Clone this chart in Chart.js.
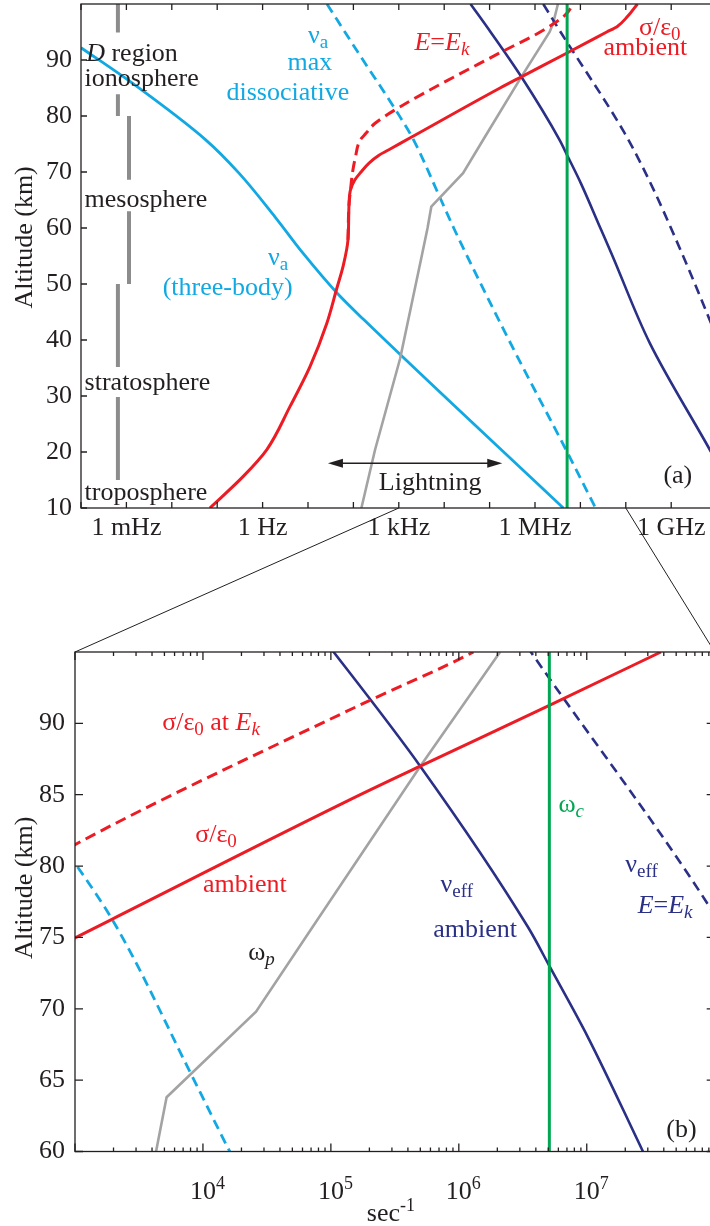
<!DOCTYPE html>
<html>
<head>
<meta charset="utf-8">
<script src="https://cdn.jsdelivr.net/npm/chart.js@4.4.1/dist/chart.umd.min.js"></script>
<style>
  html, body { margin: 0; padding: 0; background: #fff; overflow: hidden; }
  #wrap { position: relative; width: 710px; height: 1226px; overflow: hidden; }
  canvas { position: absolute; left: 0; top: 0; }
</style>
</head>
<body>
<div id="wrap">
  <canvas id="chartA" width="720" height="1226"></canvas>
  <canvas id="chartB" width="720" height="1226"></canvas>
</div>
<script>
// altitude profiles: x in sec^-1 (Hz), y = altitude in km
const nuThreeBodyX   = [1e-4, 1.33e-3, 0.0566, 0.302, 1.87, 7.76, 43.5, 171, 4.2e6];
const nuThreeBodyAlt = [92.2, 85.9, 75.7, 69.8, 62.0, 55.5, 48.4, 43.6, 10];

const nuDissX   = [26.2, 129, 1.0e3, 2.0e3, 8.1e3, 1.62e4, 2.9e4, 3.45e5, 4.82e6, 2.16e7];
const nuDissAlt = [100, 91.25, 80.2, 76.1, 65.4, 60, 55.7, 38.2, 20.4, 10];

const omegaPX   = [150, 300, 1.07e3, 3.2e3, 4.3e3, 5.2e3, 2.6e4, 7.8e4, 5.0e5, 2.1e6, 2.5e6, 3.2e6];
const omegaPAlt = [10, 20.4, 36.7, 55, 60, 63.8, 69.8, 76.2, 87, 95, 96.5, 100];

const sigmaAmbX   = [0.069, 0.37, 1.23, 4.0, 11, 26, 43, 59, 76, 80, 86.3, 108, 147, 221, 366, 676, 1.875e3, 1.7e5, 5.0e5, 5.2e6, 3.8e7, 6.5e7, 1.1e8, 1.8e8];
const sigmaAmbAlt = [10, 15.6, 20.4, 28.1, 35.2, 43, 49.2, 53.1, 57.9, 64.1, 66.8, 68.6, 70.0, 71.6, 73.0, 74.2, 76.2, 85.0, 87.0, 91.3, 95, 96, 97.8, 100];

const sigmaEkX   = [76, 80, 86.3, 96, 110, 141, 189, 300, 1.0e3, 1.7e5, 1.3e6, 4.6e6, 7.0e6];
const sigmaEkAlt = [57.9, 64.1, 66.8, 70, 72.5, 75.7, 76.9, 78.7, 81.5, 91.3, 95, 98, 100];

const nuEffAmbX   = [3.8e4, 1.05e5, 5.04e5, 3.47e6, 5.15e6, 1.02e7, 2.75e7, 4.8e7, 3.4e8, 7.1e9, 1.0e10];
const nuEffAmbAlt = [100, 95, 86.95, 75.73, 72.93, 68.02, 60, 55.5, 39.4, 20.4, 18.2];

const nuEffEkX   = [1.52e6, 3.66e6, 9.1e7, 3.41e8, 1.85e9, 6.56e9, 1.0e10];
const nuEffEkAlt = [100, 95, 77.15, 68.2, 54.9, 44.2, 40.5];

const omegaCX   = [5.1e6, 5.1e6];
const omegaCAlt = [10, 100];

// atmosphere layer markers (x position, top alt, bottom alt)
const layerBars = [
  [6.5e-4, 100, 94.9], [6.5e-4, 83.9, 80],
  [1.14e-3, 80, 68.6], [1.14e-3, 63, 50],
  [6.5e-4, 50, 35.2], [6.5e-4, 29.8, 15]
];
const lightningBand = [27.5, 1.9e5];
const lightningAlt = 18;

// axes
const xTicksA = [1e-3, 1, 1e3, 1e6, 1e9];
const xLabelsA = ['1 mHz', '1 Hz', '1 kHz', '1 MHz', '1 GHz'];
const yTicksA = [10, 20, 30, 40, 50, 60, 70, 80, 90];
const xTicksB = [1e4, 1e5, 1e6, 1e7];
const yTicksB = [60, 65, 70, 75, 80, 85, 90];
const zoomX = [1e3, 1e8];
const zoomAlt = [60, 95];

const FONT = '"Liberation Serif", "Times New Roman", serif';
const INK = '#231f20', RED = '#ed1c24', CYAN = '#12a9e3', NAVY = '#2b3087', GREEN = '#00a651', GREY = '#a3a3a3', BAR = '#8c8c8c';

function pts(xs, alts) {
  return xs.map((x, i) => ({ x: x, y: alts[i] }));
}

function line(xs, alts, color, width, dash, straight) {
  return {
    data: pts(xs, alts),
    borderColor: color,
    borderWidth: width,
    borderDash: dash || [],
    pointRadius: 0,
    fill: false,
    cubicInterpolationMode: straight ? 'default' : 'monotone',
    tension: 0
  };
}

function makeDatasets(withBars) {
  const sets = [
    line(omegaCX, omegaCAlt, GREEN, 3),
    line(sigmaAmbX, sigmaAmbAlt, RED, 3),
    line(sigmaEkX, sigmaEkAlt, RED, 3, [11, 6]),
    line(nuEffAmbX, nuEffAmbAlt, NAVY, 2.6),
    line(nuEffEkX, nuEffEkAlt, NAVY, 2.6, [10, 6]),
    line(omegaPX, omegaPAlt, GREY, 2.6, null, true),
    line(nuThreeBodyX, nuThreeBodyAlt, CYAN, 2.8),
    line(nuDissX, nuDissAlt, CYAN, 2.8, [10, 6])
  ];
  if (withBars) {
    layerBars.forEach(b => sets.push(line([b[0], b[0]], [b[1], b[2]], BAR, 4, null, true)));
  }
  return sets;
}

// text with sub/superscripts: parts = [[text, kind]]
function drawRich(ctx, parts, x, y, color, align) {
  const spec = {
    n: [26, 0, ''], i: [26, 0, 'italic '],
    s: [19, 5, ''], si: [19, 5, 'italic '],
    p: [18, -10, '']
  };
  ctx.save();
  ctx.fillStyle = color;
  ctx.textBaseline = 'alphabetic';
  ctx.textAlign = 'left';
  let w = 0;
  parts.forEach(p => {
    const s = spec[p[1] || 'n'];
    ctx.font = s[2] + s[0] + 'px ' + FONT;
    w += ctx.measureText(p[0]).width;
  });
  let cx = align === 'center' ? x - w / 2 : x;
  parts.forEach(p => {
    const s = spec[p[1] || 'n'];
    ctx.font = s[2] + s[0] + 'px ' + FONT;
    ctx.fillText(p[0], cx, y + s[1]);
    cx += ctx.measureText(p[0]).width;
  });
  ctx.restore();
}

function drawFrame(chart, minor, majorLen, minorLen, yTicks) {
  const ctx = chart.ctx, a = chart.chartArea, xs = chart.scales.x, ys = chart.scales.y;
  ctx.save();
  ctx.strokeStyle = INK;
  ctx.lineWidth = 1.3;
  ctx.strokeRect(a.left, a.top, a.right - a.left, a.bottom - a.top);
  ctx.beginPath();
  const lo = Math.floor(Math.log10(xs.min)), hi = Math.ceil(Math.log10(xs.max));
  for (let e = lo; e <= hi; e++) {
    for (let k = 1; k <= (minor ? 9 : 1); k++) {
      const v = k * Math.pow(10, e);
      if (v < xs.min * 0.999 || v > xs.max * 1.001) continue;
      const px = xs.getPixelForValue(v), len = k === 1 ? majorLen : minorLen;
      ctx.moveTo(px, a.bottom); ctx.lineTo(px, a.bottom - len);
      ctx.moveTo(px, a.top); ctx.lineTo(px, a.top + len);
    }
  }
  yTicks.forEach(v => {
    const py = ys.getPixelForValue(v);
    ctx.moveTo(a.left, py); ctx.lineTo(a.left + majorLen, py);
    ctx.moveTo(a.right, py); ctx.lineTo(a.right - majorLen, py);
  });
  ctx.stroke();
  ctx.restore();
}

function yTitle(ctx, cx, cy) {
  ctx.save();
  ctx.translate(cx, cy);
  ctx.rotate(-Math.PI / 2);
  ctx.font = '26px ' + FONT;
  ctx.fillStyle = INK;
  ctx.textAlign = 'center';
  ctx.textBaseline = 'middle';
  ctx.fillText('Altitude (km)', 0, 0);
  ctx.restore();
}

const labelsA = [
  { parts: [['D', 'i'], [' region']], x: 1.3e-4, y: 89.9, c: INK },
  { parts: [['ionosphere']], x: 1.2e-4, y: 85.4, c: INK },
  { parts: [['mesosphere']], x: 1.2e-4, y: 63.75, c: INK },
  { parts: [['stratosphere']], x: 1.2e-4, y: 31.1, c: INK },
  { parts: [['troposphere']], x: 1.2e-4, y: 11.4, c: INK },
  { parts: [['ν'], ['a', 's']], x: 16.6, y: 93.0, c: CYAN, al: 'center' },
  { parts: [['max']], x: 11, y: 88.2, c: CYAN, al: 'center' },
  { parts: [['dissociative']], x: 3.6, y: 82.9, c: CYAN, al: 'center' },
  { parts: [['ν'], ['a', 's']], x: 2.2, y: 53.4, c: CYAN, al: 'center' },
  { parts: [['(three-body)']], x: 0.17, y: 48, c: CYAN, al: 'center' },
  { parts: [['E', 'i'], ['='], ['E', 'i'], ['k', 'si']], x: 8.9e3, y: 91.8, c: RED, al: 'center' },
  { parts: [['σ/ε'], ['0', 's']], x: 5.6e8, y: 94.5, c: RED, al: 'center' },
  { parts: [['ambient']], x: 2.7e8, y: 90.9, c: RED, al: 'center' },
  { parts: [['Lightning']], x: 4.9e3, y: 13.2, c: INK, al: 'center' },
  { parts: [['(a)']], x: 1.4e9, y: 14.5, c: INK, al: 'center' }
];

const labelsB = [
  { parts: [['σ/ε'], ['0', 's'], [' at '], ['E', 'i'], ['k', 'si']], x: 4.8e3, y: 89.5, c: RED },
  { parts: [['σ/ε'], ['0', 's']], x: 8.7e3, y: 81.7, c: RED },
  { parts: [['ambient']], x: 1.0e4, y: 78.2, c: RED },
  { parts: [['ω'], ['p', 'si']], x: 2.26e4, y: 73.4, c: INK },
  { parts: [['ν'], ['eff', 's']], x: 7.2e5, y: 78.2, c: NAVY },
  { parts: [['ambient']], x: 6.3e5, y: 75.05, c: NAVY },
  { parts: [['ω'], ['c', 'si']], x: 6.0e6, y: 83.8, c: GREEN },
  { parts: [['ν'], ['eff', 's']], x: 2.0e7, y: 79.6, c: NAVY },
  { parts: [['E', 'i'], ['='], ['E', 'i'], ['k', 'si']], x: 2.5e7, y: 76.7, c: NAVY },
  { parts: [['(b)']], x: 5.5e7, y: 61.0, c: INK, al: 'center' }
];

function drawLabels(chart, list) {
  const xs = chart.scales.x, ys = chart.scales.y;
  list.forEach(l => drawRich(chart.ctx, l.parts, xs.getPixelForValue(l.x), ys.getPixelForValue(l.y), l.c, l.al));
}

const panelA = {
  id: 'panelA',
  afterDatasetsDraw(chart) { drawFrame(chart, false, 6, 0, yTicksA); },
  afterDraw(chart) {
    const ctx = chart.ctx, xs = chart.scales.x, ys = chart.scales.y, a = chart.chartArea;
    drawLabels(chart, labelsA);
    yTitle(ctx, 25, a.top + (a.bottom - a.top) * 0.463);
    // lightning band arrow
    const x1 = xs.getPixelForValue(lightningBand[0]), x2 = xs.getPixelForValue(lightningBand[1]);
    const y = ys.getPixelForValue(lightningAlt);
    ctx.save();
    ctx.strokeStyle = INK; ctx.fillStyle = INK; ctx.lineWidth = 1.5;
    ctx.beginPath(); ctx.moveTo(x1 + 8, y); ctx.lineTo(x2 - 8, y); ctx.stroke();
    ctx.beginPath(); ctx.moveTo(x1, y); ctx.lineTo(x1 + 15, y - 4.5); ctx.lineTo(x1 + 15, y + 4.5); ctx.closePath(); ctx.fill();
    ctx.beginPath(); ctx.moveTo(x2, y); ctx.lineTo(x2 - 15, y - 4.5); ctx.lineTo(x2 - 15, y + 4.5); ctx.closePath(); ctx.fill();
    ctx.restore();
  }
};

const panelB = {
  id: 'panelB',
  afterDatasetsDraw(chart) { drawFrame(chart, true, 8, 4, yTicksB); },
  afterDraw(chart) {
    const ctx = chart.ctx, xs = chart.scales.x, a = chart.chartArea;
    drawLabels(chart, labelsB);
    yTitle(ctx, 25, a.top + (a.bottom - a.top) * 0.472);
    xTicksB.forEach(v => {
      const px = xs.getPixelForValue(v);
      const e = String(Math.round(Math.log10(v)));
      ctx.save();
      ctx.font = '26px ' + FONT;
      const w = ctx.measureText('10').width;
      ctx.restore();
      drawRich(ctx, [['10'], [e, 'p']], px - w / 2, a.bottom + 47, INK);
    });
    drawRich(ctx, [['sec'], ['-1', 'p']], (a.left + a.right) / 2 - 28, a.bottom + 69, INK);
    // zoom connectors from panel (a)
    const aa = chartA.chartArea, xa = chartA.scales.x;
    ctx.save();
    ctx.strokeStyle = INK; ctx.lineWidth = 1;
    ctx.beginPath();
    ctx.moveTo(xa.getPixelForValue(zoomX[0]), aa.bottom); ctx.lineTo(a.left, a.top);
    ctx.moveTo(xa.getPixelForValue(zoomX[1]), aa.bottom); ctx.lineTo(a.right, a.top);
    ctx.stroke();
    ctx.restore();
  }
};

function baseOptions(pad, xMin, xMax, yMin, yMax, yW, yPadding, yTicks, xTicks, xLabels) {
  return {
    responsive: false, animation: false, devicePixelRatio: 1, indexAxis: 'y', events: [],
    layout: { autoPadding: false, padding: pad },
    plugins: { legend: { display: false }, tooltip: { enabled: false } },
    scales: {
      x: {
        type: 'logarithmic', min: xMin, max: xMax,
        grid: { display: false, drawTicks: false }, border: { display: false },
        ticks: {
          display: !!xLabels, font: { family: FONT, size: 26 }, color: INK, padding: 5,
          maxRotation: 0, autoSkip: false, callback: (v, i) => xLabels ? xLabels[i] : ''
        },
        afterBuildTicks: s => { s.ticks = xTicks.map(v => ({ value: v })); },
        afterFit: s => { s.height = 40; s.paddingLeft = 0; s.paddingRight = 0; }
      },
      y: {
        type: 'linear', min: yMin, max: yMax,
        grid: { display: false, drawTicks: false }, border: { display: false },
        ticks: { font: { family: FONT, size: 26 }, color: INK, padding: yPadding, autoSkip: false, callback: v => String(v) },
        afterBuildTicks: s => { s.ticks = yTicks.map(v => ({ value: v })); },
        afterFit: s => { s.width = yW; s.paddingTop = 0; s.paddingBottom = 0; }
      }
    }
  };
}

const chartA = new Chart(document.getElementById('chartA'), {
  type: 'line',
  data: { datasets: makeDatasets(true) },
  options: baseOptions({ left: 0, top: 4, right: 3.4, bottom: 678 }, 1e-4, 1e10, 10, 100, 81, 9, yTicksA, xTicksA, xLabelsA),
  plugins: [panelA]
});

const chartB = new Chart(document.getElementById('chartB'), {
  type: 'line',
  data: { datasets: makeDatasets(false) },
  options: baseOptions({ left: 0, top: 652, right: 5.3, bottom: 34.5 }, zoomX[0], zoomX[1], zoomAlt[0], zoomAlt[1], 75, 10, yTicksB, xTicksB, null),
  plugins: [panelB]
});
</script>
</body>
</html>
